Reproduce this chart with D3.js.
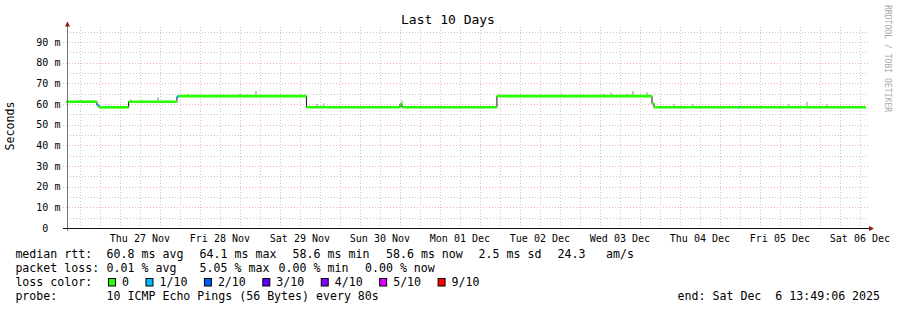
<!DOCTYPE html>
<html lang="en">
<head>
<meta charset="UTF-8">
<title>Last 10 Days</title>
<style>
  body { margin: 0; background: #fff; }
  text { font-family: "DejaVu Sans Mono", monospace; white-space: pre; }
</style>
</head>
<body>
<script src="https://d3js.org/d3.v7.min.js"></script>
<script>
// step series: median rtt (ms) from each time until the next one
var stepTimes = ["2025-11-26T13:49", "2025-11-26T23:06", "2025-11-26T23:42", "2025-11-27T08:36",
                 "2025-11-27T23:06", "2025-11-27T23:42", "2025-11-29T13:57", "2025-11-30T18:00",
                 "2025-11-30T18:36", "2025-12-01T23:06", "2025-12-03T21:36", "2025-12-03T22:12",
                 "2025-12-04T23:42", "2025-12-05T00:00"];
var medianMs   = [61.1, 59.4, 58.4, 61.1, 63.6, 63.8, 58.4, 59.8, 58.4, 63.8, 60.3, 58.4, 58.4, 58.4];
var lossTenths = [0, 1, 0, 0, 1, 0, 0, 0, 0, 0, 0, 0, 1, 0];
var endTime = "2025-12-06T13:49:06";

// smoke (light spikes above the median)
var smokeTimes = ["2025-11-26T18:36", "2025-11-26T20:24", "2025-11-27T09:18", "2025-11-27T12:36",
                  "2025-11-27T17:24", "2025-11-27T19:48", "2025-11-27T21:00", "2025-11-28T02:24",
                  "2025-11-28T18:00", "2025-11-28T22:48", "2025-11-29T17:06", "2025-11-29T19:12",
                  "2025-11-30T18:36", "2025-12-02T18:36", "2025-12-03T07:12", "2025-12-03T09:18",
                  "2025-12-03T14:06", "2025-12-03T15:54", "2025-12-03T20:06", "2025-12-04T04:12",
                  "2025-12-04T09:54", "2025-12-05T14:42", "2025-12-05T20:06", "2025-12-06T02:06"];
var smokeTopMs = [61.9, 61.9, 62.2, 61.9, 63.4, 61.9, 61.9, 65.0, 65.0, 66.3, 60.0, 60.3,
                  61.6, 65.0, 65.0, 65.5, 65.0, 66.3, 65.7, 59.8, 60.0, 60.0, 61.0, 59.8];

var yTicks = [0, 10, 20, 30, 40, 50, 60, 70, 80, 90];
var yTickLabels = ["0", "10", "20", "30", "40", "50", "60", "70", "80", "90"];

var lossLabels = ["0", "1/10", "2/10", "3/10", "4/10", "5/10", "9/10"];
var lossColors = ["#26ff00", "#00b8ff", "#0059ff", "#5e00ff", "#7e00ff", "#dd00ff", "#ff0000"];

var rttStats = ["60.8 ms avg", "64.1 ms max", "58.6 ms min", "58.6 ms now", "2.5 ms sd", "24.3", "am/s"];
var lossStats = ["0.01 % avg", "5.05 % max", "0.00 % min", "0.00 % now"];

var width = 897, height = 310;
var parse = d3.utcParse("%Y-%m-%dT%H:%M");
var end = d3.utcParse("%Y-%m-%dT%H:%M:%S")(endTime);
var start = d3.utcDay.offset(end, -10);

var x = d3.scaleUtc().domain([start, end]).range([66, 866]);
var y = d3.scaleLinear().domain([0, 100]).range([228, 21.33]);

var svg = d3.select('body').append('svg').attr('width', width).attr('height', height);
svg.append('rect').attr('width', width).attr('height', height).attr('fill', '#fff');

// grid
var gTop = 27, gRight = 868;
var minorH = d3.range(5, 100, 10);
svg.selectAll('.hmin').data(minorH).enter().append('line')
    .attr('x1', 67).attr('x2', gRight)
    .attr('y1', function(d) { return Math.round(y(d)) + .5; })
    .attr('y2', function(d) { return Math.round(y(d)) + .5; })
    .attr('stroke', '#c8c8c8').attr('stroke-dasharray', '1,2');
var hours = d3.utcHour.every(6).range(start, end).filter(function(d) { return d.getUTCHours() != 0; });
svg.selectAll('.vmin').data(hours).enter().append('line')
    .attr('x1', function(d) { return Math.round(x(d)) + .5; })
    .attr('x2', function(d) { return Math.round(x(d)) + .5; })
    .attr('y1', gTop).attr('y2', 230)
    .attr('stroke', '#c8c8c8').attr('stroke-dasharray', '1,2');
svg.selectAll('.hmaj').data(yTicks.slice(1)).enter().append('line')
    .attr('x1', 63).attr('x2', gRight)
    .attr('y1', function(d) { return Math.round(y(d)) + .5; })
    .attr('y2', function(d) { return Math.round(y(d)) + .5; })
    .attr('stroke', '#f0b4b4').attr('stroke-dasharray', '1,2');
var days = d3.utcDay.range(start, end);
svg.selectAll('.vmaj').data(days).enter().append('line')
    .attr('x1', function(d) { return Math.round(x(d)) + .5; })
    .attr('x2', function(d) { return Math.round(x(d)) + .5; })
    .attr('y1', gTop).attr('y2', 231)
    .attr('stroke', '#f0b4b4').attr('stroke-dasharray', '1,2');

// median lookup
var steps = stepTimes.map(function(t, i) { return { t: parse(t), v: medianMs[i], loss: lossTenths[i] }; });
steps.forEach(function(d, i) { d.t2 = i < steps.length - 1 ? steps[i + 1].t : end; });
var bis = d3.bisector(function(d) { return d.t; }).right;
function medianAt(t) { return steps[Math.max(0, bis(steps, t) - 1)].v; }

// smoke
svg.selectAll('.smoke').data(smokeTimes).enter().append('rect')
    .attr('x', function(d) { return x(parse(d)) - 1; })
    .attr('width', 2)
    .attr('y', function(d, i) { return y(smokeTopMs[i]); })
    .attr('height', function(d, i) { return Math.max(0, y(medianAt(parse(d))) - y(smokeTopMs[i])); })
    .attr('fill', '#c4c4c4');

// thin black median
var line = d3.line().curve(d3.curveStepAfter)
    .x(function(d) { return x(d.t); }).y(function(d) { return y(d.v); });
svg.append('path')
    .datum(steps.concat([{ t: end, v: steps[steps.length - 1].v }]))
    .attr('d', line).attr('fill', 'none').attr('stroke', '#111').attr('stroke-width', 1);

// loss coloured median segments
svg.selectAll('.seg').data(steps).enter().append('line')
    .attr('x1', function(d) { return x(d.t); })
    .attr('x2', function(d) { return x(d.t2); })
    .attr('y1', function(d) { return y(d.v); })
    .attr('y2', function(d) { return y(d.v); })
    .attr('stroke', function(d) { return lossColors[d.loss]; })
    .attr('stroke-width', 2.6);

// axes
svg.append('line').attr('x1', 67.5).attr('x2', 67.5).attr('y1', 231).attr('y2', 25)
    .attr('stroke', '#777');
svg.append('line').attr('x1', 63).attr('x2', 870).attr('y1', 228.5).attr('y2', 228.5)
    .attr('stroke', '#111');
svg.append('path').attr('d', 'M67.5,21.5L65,26.5L70,26.5Z').attr('fill', '#8b1a1a');
svg.append('path').attr('d', 'M874,228.5L869,226L869,231Z').attr('fill', '#8b1a1a');

// y labels
svg.selectAll('.ylab').data(yTicks).enter().append('text')
    .attr('x', 48.4).attr('y', function(d) { return y(d) + 3.7; })
    .attr('text-anchor', 'end').attr('font-size', 10).attr('fill', '#000')
    .text(function(d, i) { return yTickLabels[i]; });
svg.selectAll('.yunit').data(yTicks.slice(1)).enter().append('text')
    .attr('x', 54.4).attr('y', function(d) { return y(d) + 3.7; })
    .attr('font-size', 10).attr('fill', '#000').text('m');

// x labels at noon
var noons = days.map(function(d) { return d3.utcHour.offset(d, 12); })
    .filter(function(d) { return d <= end; });
var fmt = d3.utcFormat("%a %d %b");
svg.selectAll('.xlab').data(noons).enter().append('text')
    .attr('x', function(d) { return x(d); }).attr('y', 241.5)
    .attr('text-anchor', 'middle').attr('font-size', 10).attr('fill', '#000')
    .text(function(d) { return fmt(d); });

// title and side texts
svg.append('text').attr('x', 448).attr('y', 24).attr('text-anchor', 'middle')
    .attr('font-size', 13).text('Last 10 Days');
svg.append('text').attr('transform', 'translate(14,126) rotate(-90)')
    .attr('text-anchor', 'middle').attr('font-size', 11.6).text('Seconds');
svg.append('text').attr('transform', 'translate(885,5) rotate(90)')
    .attr('font-size', 8.1).attr('fill', '#aaa').text('RRDTOOL / TOBI OETIKER');

// legend
var fs = 11.6;
function legendText(xp, yp, s) {
    svg.append('text').attr('x', xp).attr('y', yp).attr('font-size', fs).text(s);
}
legendText(15.4, 258, 'median rtt:');
[106.6, 199.6, 292.6, 386, 478.6, 557.6, 606].forEach(function(xp, i) { legendText(xp, 258, rttStats[i]); });
legendText(15.4, 272, 'packet loss:');
[106.6, 199.6, 278.6, 365].forEach(function(xp, i) { legendText(xp, 272, lossStats[i]); });
legendText(15.4, 286, 'loss color:');
var lx = 108;
lossLabels.forEach(function(l, i) {
    svg.append('rect').attr('x', lx + .5).attr('y', 278.5).attr('width', 7).attr('height', 7.5)
        .attr('fill', lossColors[i]).attr('stroke', '#000');
    legendText(lx + 14, 286, l);
    lx += 14.5 + l.length * 6.98 + 16;
});
legendText(15.4, 300, 'probe:');
legendText(106.6, 300, '10 ICMP Echo Pings (56 Bytes) every 80s');
legendText(677.6, 300, 'end: Sat Dec  6 13:49:06 2025');
</script>
</body>
</html>
